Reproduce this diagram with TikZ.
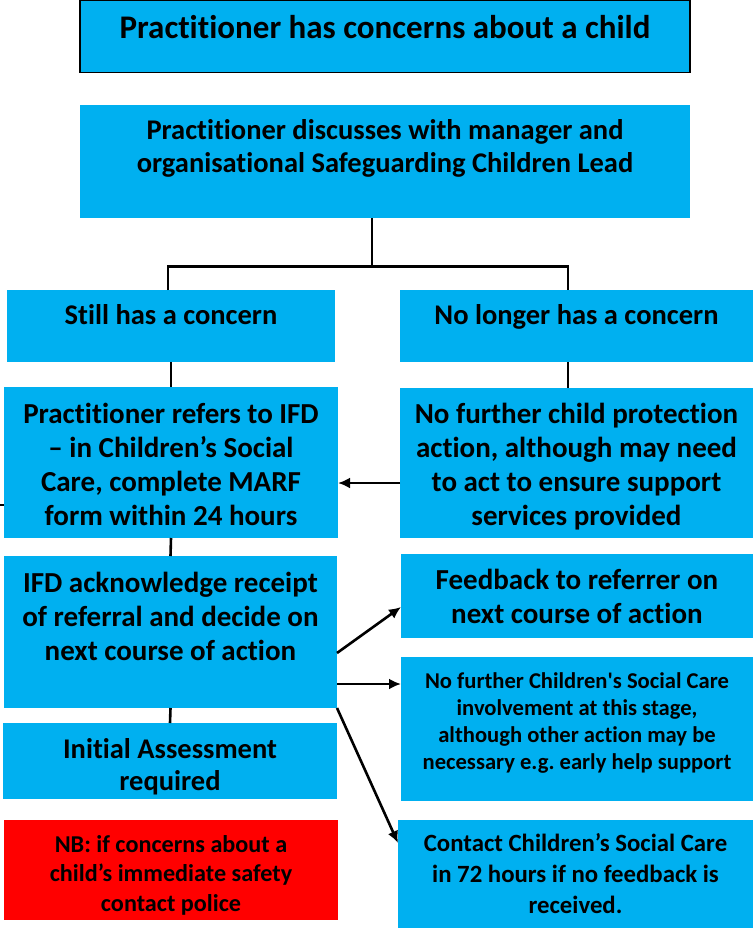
\documentclass[tikz,border=0pt]{standalone}
\usepackage{fontspec}
\setmainfont{Carlito}[Ligatures={TeX,NoCommon}]
\usetikzlibrary{arrows.meta}
\definecolor{boxblue}{HTML}{00B0F0}
\definecolor{alertred}{HTML}{FF0000}
\newcommand{\boxfont}[2]{\fontsize{#1}{#2}\selectfont\bfseries}
\newcommand{\upshifted}[2]{\raisebox{#1}[\height][\depth]{\begin{tabular}{@{}c@{}}#2\end{tabular}}}

\begin{document}
\begin{tikzpicture}[x=1pt,y=-1pt,
  box/.style={rectangle, fill=boxblue, inner sep=0pt, outer sep=0pt},
  link/.style={line width=2.6pt},
  arr/.style={line width=2.6pt, -{Latex[length=12pt,width=11pt]}}]
\useasboundingbox (0,0) rectangle (753,928);
% boxes, left column first
\node[box, draw, line width=1.8pt, minimum width=610pt, minimum height=72pt, font=\boxfont{33}{37}](concern) at (385,36.5){\upshifted{5pt}{Practitioner has concerns about a child}};
\node[box, minimum width=610pt, minimum height=113pt, font=\boxfont{28.5}{33}](discuss) at (385,161.5){\upshifted{12pt}{Practitioner discusses with manager and\\organisational Safeguarding Children Lead}};
\node[box, minimum width=328pt, minimum height=72pt, font=\boxfont{28.5}{32}](still) at (171,326){\upshifted{8pt}{Still has a concern}};
\node[box, minimum width=353pt, minimum height=72pt, font=\boxfont{28.5}{32}](nolonger) at (576.5,326){\upshifted{8pt}{No longer has a concern}};
\node[box, minimum width=334pt, minimum height=151pt, font=\boxfont{29}{34}](refer) at (171,462.5){\upshifted{-5pt}{Practitioner refers to IFD\\– in Children’s Social\\Care, complete MARF\\form within 24 hours}};
\node[box, minimum width=353pt, minimum height=150pt, font=\boxfont{29}{34}](noaction) at (576.5,463){\upshifted{-5pt}{No further child protection\\action, although may need\\to act to ensure support\\services provided}};
\node[box, minimum width=333pt, minimum height=152pt, font=\boxfont{29}{34}](ifd) at (170.5,632){\upshifted{12pt}{IFD acknowledge receipt\\of referral and decide on\\next course of action}};
\node[box, minimum width=334pt, minimum height=76pt, font=\boxfont{28.5}{32}](initial) at (170,761){\upshifted{-7pt}{Initial Assessment\\required}};
\node[box, fill=alertred, minimum width=334pt, minimum height=100pt, font=\boxfont{24.2}{29.5}](police) at (171,870){\upshifted{-6pt}{NB: if concerns about a\\child’s immediate safety\\contact police}};
% right column
\node[box, minimum width=352pt, minimum height=84pt, font=\boxfont{29}{34}](feedback) at (577,596){\upshifted{-4pt}{Feedback to referrer on\\next course of action}};
\node[box, minimum width=352pt, minimum height=144pt, font=\boxfont{22.6}{27}](nocsc) at (577,729){\upshifted{5pt}{No further Children\textquotesingle s Social Care\\involvement at this stage,\\although other action may be\\necessary e.g.\ early help support}};
\node[box, minimum width=355pt, minimum height=108pt, font=\boxfont{24.8}{31}](contact) at (575.5,874){\upshifted{-2pt}{Contact Children’s Social Care\\in 72 hours if no feedback is\\received.}};
% connectors
\coordinate (split) at (372,266.5);
\coordinate (lefttap) at (168,266.5);
\coordinate (righttap) at (568,266.5);
\coordinate (stub) at (0,505);
\draw[link] (discuss.south -| split) -- (split);
\draw[link] (still.north -| lefttap) -- (lefttap) -- (righttap) -- (nolonger.north -| righttap);
\draw[link] (still.south) -- (refer.north);
\draw[link] (nolonger.south -| righttap) -- (noaction.north -| righttap);
\draw[arr] ([yshift=-20pt]noaction.west) -- ([yshift=-20pt]noaction.west -| refer.east);
\draw[link] (stub) -- (stub -| refer.west);
\draw[link] (refer.south) -- (ifd.north);
\draw[link] (ifd.south) -- (initial.north);
\draw[arr] ([yshift=-21pt]ifd.east) -- ([yshift=-11pt]feedback.west);
\draw[arr] ([yshift=-52pt]ifd.east) -- ([yshift=-52pt]ifd.east -| nocsc.west);
\draw[arr] (ifd.south east) -- ([yshift=31pt]contact.west);
\end{tikzpicture}
\end{document}
